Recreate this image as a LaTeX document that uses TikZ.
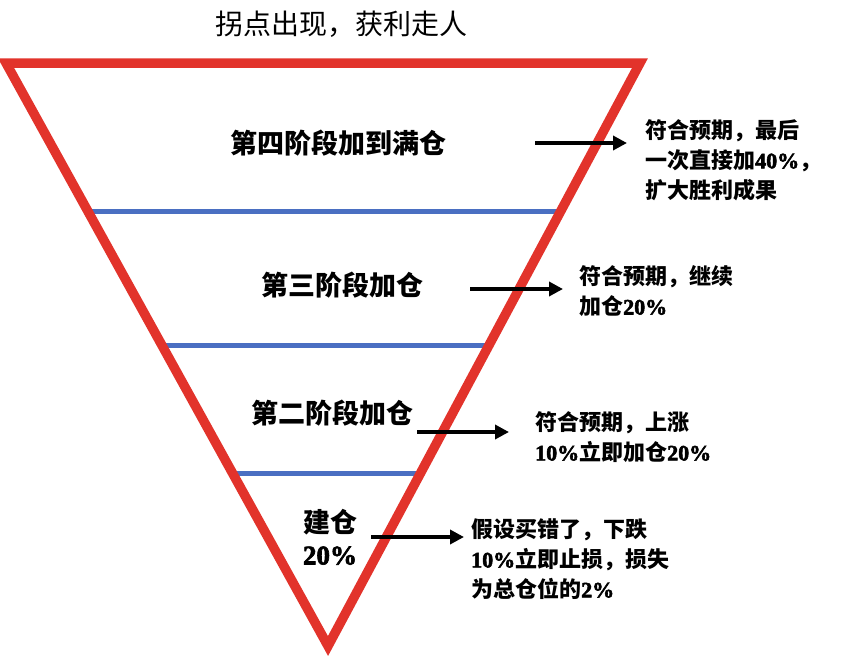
\documentclass[tikz,border=0pt]{standalone}
\usepackage{fontspec}
\setmainfont{Liberation Serif}
\newfontfamily\cjk{Noto Sans CJK SC}
\newfontfamily\latb{Liberation Serif}[FakeBold=2.5]
\usetikzlibrary{arrows.meta,calc}
\definecolor{redc}{HTML}{E2332B}
\definecolor{bluec}{HTML}{4A6FC2}
\begin{document}
\begin{tikzpicture}[x=1pt,y=-1pt,
  tri/.style={draw=redc, line width=9.5pt, line join=miter},
  band/.style={draw=bluec, line width=4.5pt},
  arr/.style={draw=black, line width=3.8pt, -{Triangle[length=14pt,width=14pt]}},
  lbl/.style={font=\cjk\bfseries\fontsize{27}{32}\selectfont, inner sep=0pt, align=center},
  ttl/.style={font=\cjk\fontsize{28}{32}\selectfont, inner sep=0pt},
  note/.style={font=\cjk\bfseries\fontsize{22}{30}\selectfont, align=left, anchor=west, inner sep=0pt}]
\useasboundingbox (0,0) rectangle (851,664);
\coordinate (TL) at (6,63);
\coordinate (TR) at (640,63);
\coordinate (B) at (328,646);
% blue bands
\draw[band] ($(TL)!0.2545!(B)$) -- ($(TR)!0.2545!(B)$);
\draw[band] ($(TL)!0.4847!(B)$) -- ($(TR)!0.4847!(B)$);
\draw[band] ($(TL)!0.7043!(B)$) -- ($(TR)!0.7043!(B)$);
% red funnel
\draw[tri] (TL) -- (TR) -- (B) -- cycle;
% title
\node[ttl] (title) at (341,24) {拐点出现，获利走人};
% stage labels
\node[lbl] (s4) at (338,143) {第四阶段加到满仓};
\node[lbl] (s3) at (342,285) {第三阶段加仓};
\node[lbl] (s2) at (332,413) {第二阶段加仓};
\node[lbl] (s1) at (330,537) {建仓\\{\latb 20\%}};
% notes
\node[note] (t4) at (645,160) {符合预期，最后\\一次直接加{\latb 40\%}，\\扩大胜利成果};
\node[note] (t3) at (579,291) {符合预期，继续\\加仓{\latb 20\%}};
\node[note] (t2) at (535,437) {符合预期，上涨\\{\latb 10\%}立即加仓{\latb 20\%}};
\node[note] (t1) at (471,559) {假设买错了，下跌\\{\latb 10\%}立即止损，损失\\为总仓位的{\latb 2\%}};
% arrows
\coordinate (a4s) at (535,143); \coordinate (a4e) at (627,143);
\coordinate (a3s) at (470,289); \coordinate (a3e) at (563,289);
\coordinate (a2s) at (417,432); \coordinate (a2e) at (509,432);
\coordinate (a1s) at (371,537); \coordinate (a1e) at (464,537);
\draw[arr] (a4s) -- (a4e);
\draw[arr] (a3s) -- (a3e);
\draw[arr] (a2s) -- (a2e);
\draw[arr] (a1s) -- (a1e);
\end{tikzpicture}
\end{document}
